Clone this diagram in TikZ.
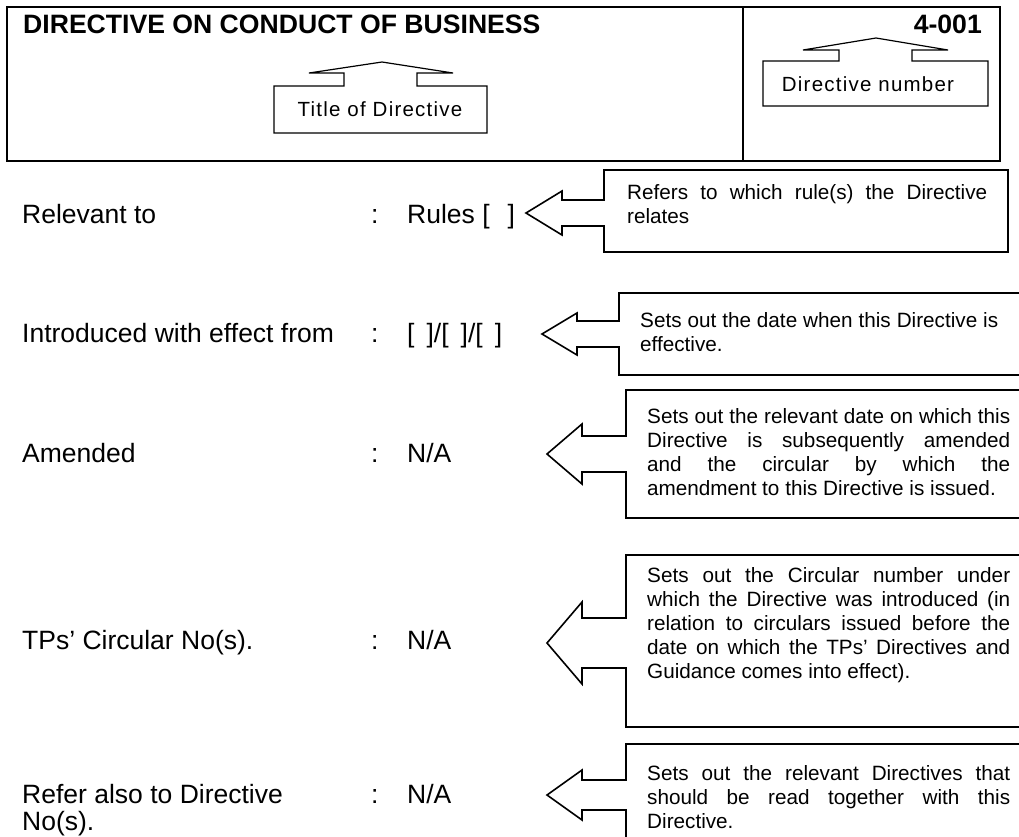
\documentclass[tikz,border=0pt]{standalone}
\usepackage{fontspec}
\setmainfont{Liberation Sans}
\tolerance=9999
\hbadness=10000
\hyphenpenalty=10000
\exhyphenpenalty=10000
\begin{document}
\begin{tikzpicture}[x=1pt,y=-1pt,
  hdr/.style={draw,line width=2pt},
  lbox/.style={draw,line width=1.6pt,line join=miter},
  ubox/.style={draw,line width=1.2pt,line join=miter},
  rowtxt/.style={anchor=base west,inner sep=0pt,font=\fontsize{26.5}{29}\selectfont},
  hdtxt/.style={inner sep=0pt,font=\bfseries\fontsize{26.6}{30}\selectfont},
  lbl/.style={inner sep=0pt,font=\fontsize{20.5}{24}\selectfont\addfontfeature{LetterSpace=6}},
  note/.style={anchor=base west,inner sep=0pt,align=justify,font=\fontsize{20.7}{24}\selectfont}]
\useasboundingbox (0,0) rectangle (1019,836);
\clip (0,0) rectangle (1019,836);

% header
\draw[hdr] (7,7) rectangle (1000,161);
\draw[hdr] (743,7) -- (743,161);
\node[hdtxt,anchor=base west] (title) at (23,33) {DIRECTIVE ON CONDUCT OF BUSINESS};
\node[hdtxt,anchor=base east] (num) at (982,33) {4-001};

% up callouts
\draw[ubox] (344,86) -- (274,86) -- (274,133) -- (487,133) -- (487,86) -- (417,86) -- (417,73) -- (453,73) -- (382,62) -- (309,73) -- (344,73) -- cycle;
\node[lbl] (tod) at (380,109.5) {Title of Directive};
\draw[ubox] (839,61) -- (763,61) -- (763,106) -- (988,106) -- (988,61) -- (912,61) -- (912,50) -- (948,50) -- (876,38) -- (803,50) -- (839,50) -- cycle;
\node[lbl] (dn) at (868,84) {Directive number};

% rows
\node[rowtxt] (r1) at (22,223) {Relevant to};
\node[rowtxt] (c1) at (371,223) {:};
\node[rowtxt] (v1) at (407,223) {Rules [\hspace{18pt}]};

\node[rowtxt] (r2) at (22,342) {Introduced with effect from};
\node[rowtxt] (c2) at (371,342) {:};
\node[rowtxt] (v2) at (407,342) {[\hspace{12pt}]/[\hspace{12pt}]/[\hspace{12pt}]};

\node[rowtxt] (r3) at (22,462) {Amended};
\node[rowtxt] (c3) at (371,462) {:};
\node[rowtxt] (v3) at (407,462) {N/A};

\node[rowtxt] (r4) at (22,649) {TPs’ Circular No(s).};
\node[rowtxt] (c4) at (371,649) {:};
\node[rowtxt] (v4) at (407,649) {N/A};

\node[rowtxt] (r5) at (22,803) {Refer also to Directive};
\node[rowtxt] (r5b) at (22,830) {No(s).};
\node[rowtxt] (c5) at (371,803) {:};
\node[rowtxt] (v5) at (407,803) {N/A};

% left callouts
\draw[lbox] (604,200) -- (604,170) -- (1008,170) -- (1008,252) -- (604,252) -- (604,226) -- (562,226) -- (562,235) -- (526,213) -- (562,191) -- (562,200) -- cycle;
\node[note,text width=360pt] (n1) at (627,199) {Refers to which rule(s) the Directive\linebreak relates};

\draw[lbox] (619,321) -- (619,293) -- (1030,293) -- (1030,375) -- (619,375) -- (619,347) -- (577,347) -- (577,355) -- (542,334) -- (577,313) -- (577,321) -- cycle;
\node[note,text width=358pt] (n2) at (640,327) {Sets out the date when this Directive is\linebreak effective.};

\draw[lbox] (626,436) -- (626,390) -- (1030,390) -- (1030,518) -- (626,518) -- (626,472) -- (582,472) -- (582,484) -- (547,454) -- (582,424) -- (582,436) -- cycle;
\node[note,text width=363pt] (n3) at (647,423) {Sets out the relevant date on which this\linebreak Directive is subsequently amended\linebreak and the circular by which the\linebreak amendment to this Directive is issued.};

\draw[lbox] (626,618) -- (626,555) -- (1030,555) -- (1030,727) -- (626,727) -- (626,668) -- (582,668) -- (582,684) -- (547,643) -- (582,602) -- (582,618) -- cycle;
\node[note,text width=363pt] (n4) at (647,582) {Sets out the Circular number under\linebreak which the Directive was introduced (in\linebreak relation to circulars issued before the\linebreak date on which the TPs’ Directives and\linebreak Guidance comes into effect).};

\draw[lbox] (626,780) -- (626,744) -- (1030,744) -- (1030,850) -- (626,850) -- (626,810) -- (582,810) -- (582,820) -- (547,795) -- (582,770) -- (582,780) -- cycle;
\node[note,text width=363pt] (n5) at (647,780) {Sets out the relevant Directives that\linebreak should be read together with this\linebreak Directive.};
\end{tikzpicture}
\end{document}
